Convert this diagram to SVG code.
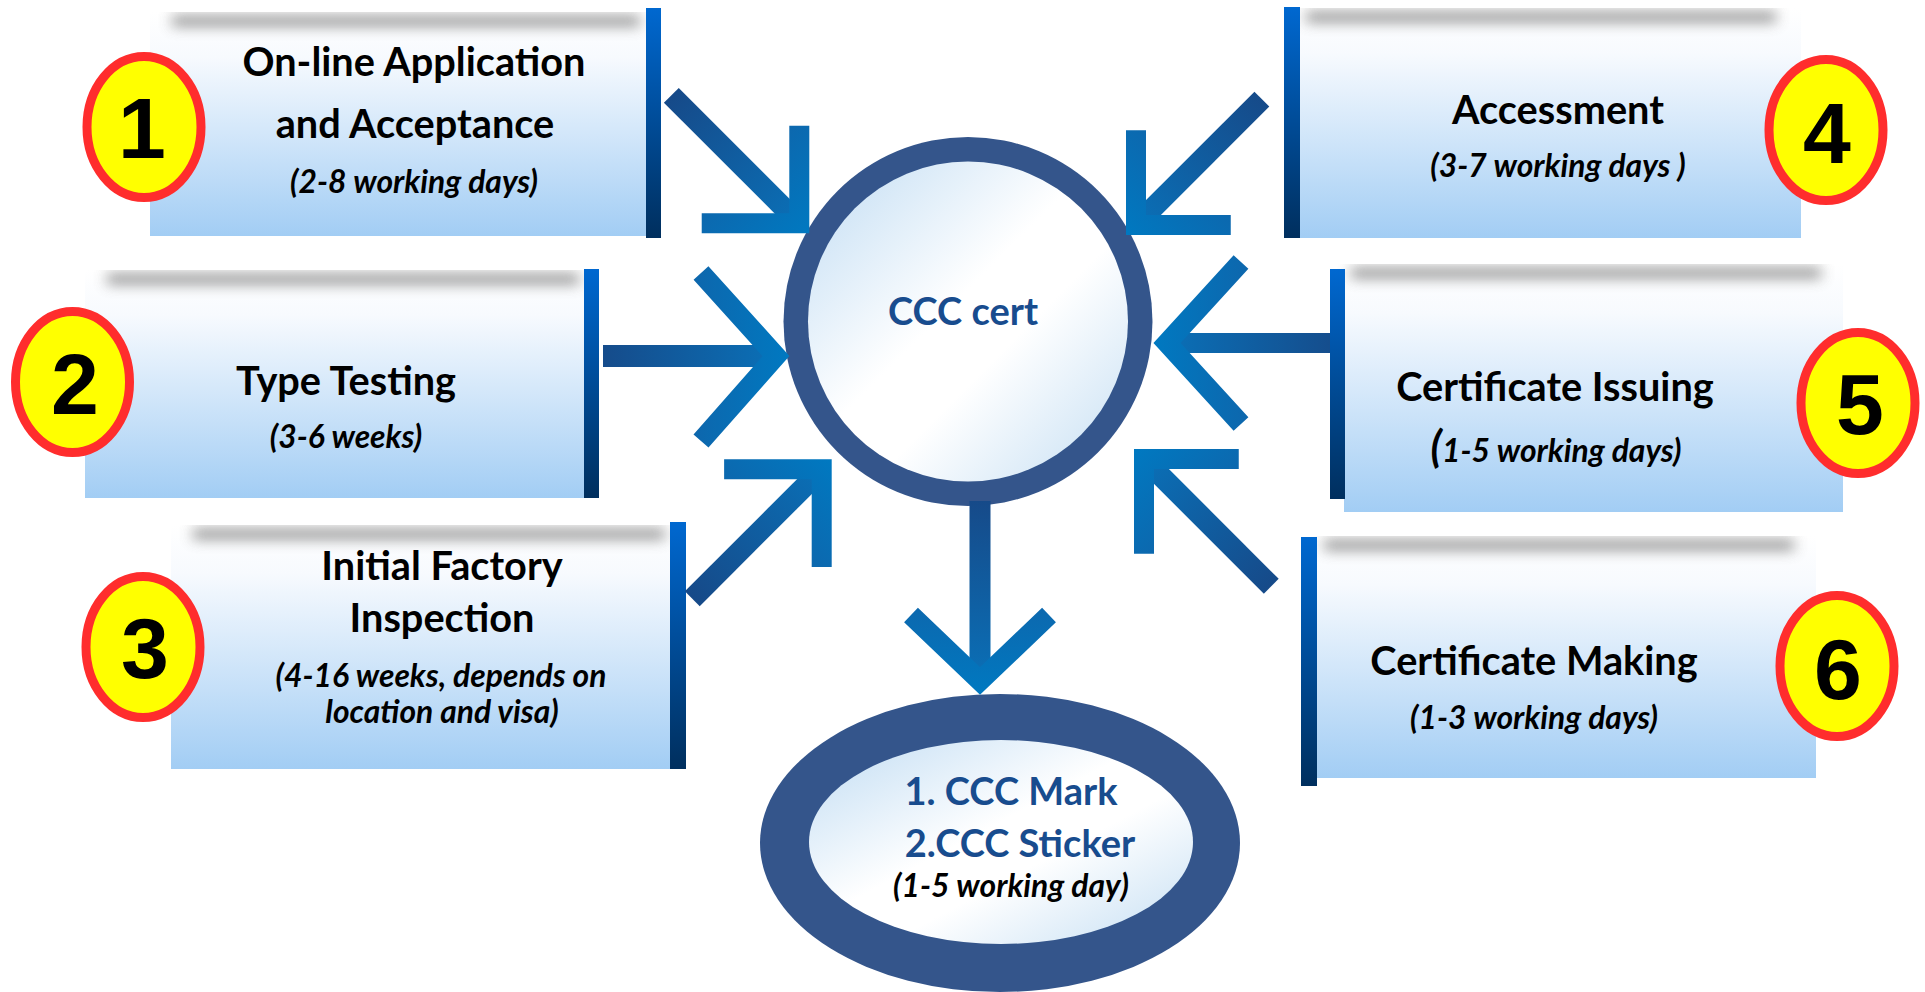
<svg xmlns="http://www.w3.org/2000/svg" width="1925" height="992" viewBox="0 0 1925 992">
<style>
.box{fill:url(#boxFill)}
.bar{fill:url(#barFill)}
.shadow{fill:#707070;opacity:.8;filter:url(#blur);clip-path:url(#topclip)}
.badge{fill:#ffff00;stroke:#ff2d2d;stroke-width:9}
.num{font-family:"Liberation Sans",Arial,sans-serif;font-weight:700;font-size:86px;fill:#000;text-anchor:middle}
.h{font-family:Lato,"Liberation Sans",sans-serif;font-weight:700;font-size:39.7px;fill:#000;text-anchor:middle}
.s{font-family:Lato,"Liberation Sans",sans-serif;font-weight:700;font-style:italic;font-size:31.8px;fill:#000;text-anchor:middle}
.b{font-family:Lato,"Liberation Sans",sans-serif;font-weight:700;font-size:38px;fill:#184c8e;text-anchor:middle}
.shaft{fill:url(#shaftGrad)}
.head{fill:none;stroke:url(#headGrad);stroke-width:20;stroke-linejoin:miter;stroke-miterlimit:10;stroke-linecap:butt}
.ring{fill:#34558b}
</style>
<defs>
<linearGradient id="boxFill" x1="0" y1="0" x2="0" y2="1">
<stop offset="0" stop-color="#ffffff"/>
<stop offset="0.2" stop-color="#f7fafe"/>
<stop offset="1" stop-color="#a2cdf4"/>
</linearGradient>
<linearGradient id="barFill" x1="0" y1="0" x2="0" y2="1">
<stop offset="0" stop-color="#0068d0"/>
<stop offset="1" stop-color="#002f5e"/>
</linearGradient>
<linearGradient id="innerFill" x1="0" y1="0" x2="1" y2="1">
<stop offset="0" stop-color="#c0dcf3"/>
<stop offset="0.45" stop-color="#ffffff"/>
<stop offset="0.6" stop-color="#ffffff"/>
<stop offset="1" stop-color="#c4def3"/>
</linearGradient>
<linearGradient id="shaftGrad" gradientUnits="userSpaceOnUse" x1="-180" y1="0" x2="0" y2="0">
<stop offset="0" stop-color="#164a89"/>
<stop offset="1" stop-color="#0a70b7"/>
</linearGradient>
<linearGradient id="headGrad" gradientUnits="userSpaceOnUse" x1="-80" y1="0" x2="15" y2="0">
<stop offset="0" stop-color="#0d67ad"/>
<stop offset="1" stop-color="#0079c1"/>
</linearGradient>
<filter id="blur" x="-20%" y="-300%" width="140%" height="700%">
<feGaussianBlur stdDeviation="7"/>
</filter>
<clipPath id="topclip" clipPathUnits="objectBoundingBox">
<rect x="-0.2" y="-0.4" width="1.4" height="6"/>
</clipPath>
</defs>

<rect width="1925" height="992" fill="#ffffff"/>

<g id="node-1">
<rect class="box" x="150" y="12" width="496" height="224"/>
<rect class="shadow" x="172" y="16" width="468" height="10"/>
<rect class="bar" x="646" y="8" width="15" height="230"/>
<ellipse class="badge" cx="144" cy="127" rx="57" ry="70.5"/>
<text class="num" x="142" y="158">1</text>
<text class="h" x="414" y="76">On-line Application</text>
<text class="h" x="415" y="138">and Acceptance</text>
<text class="s" x="414" y="193">(2-8 working days)</text>
</g>

<g id="node-2">
<rect class="box" x="85" y="270" width="499" height="228"/>
<rect class="shadow" x="107" y="274" width="472" height="10"/>
<rect class="bar" x="584" y="269" width="15" height="229"/>
<ellipse class="badge" cx="72.5" cy="382" rx="57" ry="70.5"/>
<text class="num" x="75" y="414">2</text>
<text class="h" x="346" y="395">Type Testing</text>
<text class="s" x="346" y="448">(3-6 weeks)</text>
</g>

<g id="node-3">
<rect class="box" x="171" y="525" width="499" height="244"/>
<rect class="shadow" x="193" y="529" width="472" height="10"/>
<rect class="bar" x="670" y="522" width="16" height="247"/>
<ellipse class="badge" cx="143" cy="647" rx="57" ry="70.5"/>
<text class="num" x="145" y="678">3</text>
<text class="h" x="442" y="580">Initial Factory</text>
<text class="h" x="442" y="632">Inspection</text>
<text class="s" x="441" y="687">(4-16 weeks, depends on</text>
<text class="s" x="442" y="723">location and visa)</text>
</g>

<g id="node-4">
<rect class="box" x="1299" y="8" width="502" height="230"/>
<rect class="shadow" x="1306" y="12" width="470" height="10"/>
<rect class="bar" x="1284" y="7" width="16" height="231"/>
<ellipse class="badge" cx="1826" cy="130" rx="57" ry="70.5"/>
<text class="num" x="1827" y="163">4</text>
<text class="h" x="1558" y="124">Accessment</text>
<text class="s" x="1558" y="177">(3-7 working days )</text>
</g>

<g id="node-5">
<rect class="box" x="1344" y="264" width="499" height="248"/>
<rect class="shadow" x="1351" y="268" width="470" height="10"/>
<rect class="bar" x="1330" y="269" width="15" height="230"/>
<ellipse class="badge" cx="1858" cy="403" rx="57" ry="70.5"/>
<text class="num" x="1860" y="434">5</text>
<text class="h" x="1555" y="401">Certificate Issuing</text>
<text class="s" x="1556" y="462"><tspan font-size="43">(</tspan>1-5 working days)</text>
</g>

<g id="node-6">
<rect class="box" x="1317" y="536" width="499" height="242"/>
<rect class="shadow" x="1324" y="540" width="470" height="10"/>
<rect class="bar" x="1301" y="537" width="16" height="249"/>
<ellipse class="badge" cx="1837" cy="666" rx="57" ry="70.5"/>
<text class="num" x="1838" y="699">6</text>
<text class="h" x="1534" y="675">Certificate Making</text>
<text class="s" x="1534" y="729">(1-3 working days)</text>
</g>

<g id="node-cert">
<circle class="ring" cx="968" cy="321.5" r="184.5"/>
<circle cx="968" cy="321.5" r="160" fill="url(#innerFill)"/>
<text class="b" x="963" y="325" font-size="44.6">CCC cert</text>
</g>

<g id="node-marks">
<ellipse class="ring" cx="1000" cy="843" rx="240" ry="149"/>
<ellipse cx="1001" cy="842" rx="192" ry="102" fill="url(#innerFill)"/>
<text class="b" x="1011" y="805">1. CCC Mark</text>
<text class="b" x="1020" y="857">2.CCC Sticker</text>
<text class="s" x="1011" y="897">(1-5 working day)</text>
</g>

<g id="connectors">
<g transform="translate(799.3,223.3) rotate(45)">
<rect class="shaft" x="-181" y="-10.5" width="181" height="21"/>
<polyline class="head" points="-69,-69 0,0 -69,69"/>
</g>
<g transform="translate(1136,225) rotate(135)">
<rect class="shaft" x="-178" y="-10.5" width="178" height="21"/>
<polyline class="head" points="-67,-67 0,0 -67,67"/>
</g>
<g transform="translate(776,356)">
<rect class="shaft" x="-173" y="-11" width="173" height="22"/>
<polyline class="head" points="-75,-83 0,0 -75,85"/>
</g>
<g transform="translate(1167,343) rotate(180)">
<rect class="shaft" x="-163" y="-10" width="163" height="20"/>
<polyline class="head" points="-74,-81 0,0 -74,81"/>
</g>
<g transform="translate(821.7,469.3) rotate(-45)">
<rect class="shaft" x="-183" y="-10.5" width="183" height="21"/>
<polyline class="head" points="-69,-69 0,0 -69,69"/>
</g>
<g transform="translate(1144,459) rotate(-135)">
<rect class="shaft" x="-180" y="-10.5" width="180" height="21"/>
<polyline class="head" points="-67,-67 0,0 -67,67"/>
</g>
<g transform="translate(980,681) rotate(90)">
<rect class="shaft" x="-180" y="-10.5" width="180" height="21"/>
<polyline class="head" points="-66,-69 0,0 -66,69"/>
</g>
</g>
</svg>
